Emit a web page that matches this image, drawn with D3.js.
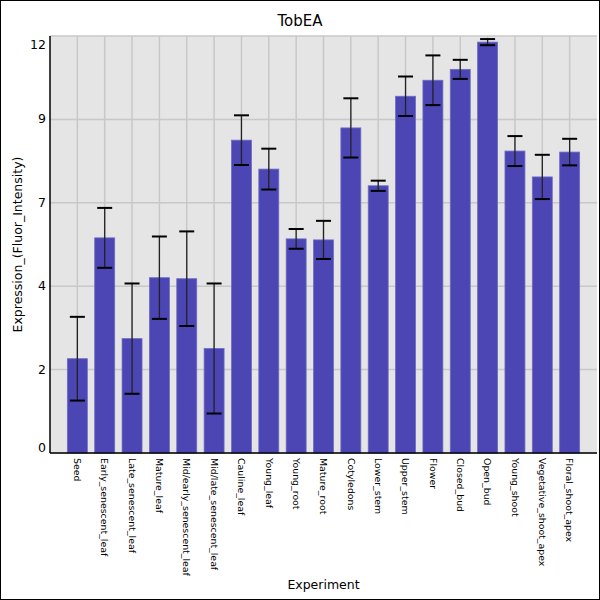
<!DOCTYPE html>
<html>
<head>
<meta charset="utf-8">
<script src="https://cdn.jsdelivr.net/npm/d3@7"></script>
<style>
  body { margin: 0; background: #fff; }
  svg { display: block; font-family: "DejaVu Sans", sans-serif; }
</style>
</head>
<body>
<div id="chart"></div>
<script>
// data
const categories = ["Seed", "Early_senescent_leaf", "Late_senescent_leaf", "Mature_leaf",
  "Mid/early_senescent_leaf", "Mid/late_senescent_leaf", "Cauline_leaf", "Young_leaf",
  "Young_root", "Mature_root", "Cotyledons", "Lower_stem", "Upper_stem", "Flower",
  "Closed_bud", "Open_bud", "Young_shoot", "Vegetative_shoot_apex", "Floral_shoot_apex"];
const values = [2.77, 6.32, 3.36, 5.15, 5.12, 3.07, 9.19, 8.34, 6.29, 6.26, 9.55, 7.85,
  10.48, 10.95, 11.27, 12.07, 8.87, 8.11, 8.84];
const errors = [1.23, 0.88, 1.62, 1.21, 1.39, 1.91, 0.73, 0.60, 0.29, 0.56, 0.87, 0.15,
  0.58, 0.73, 0.28, 0.09, 0.44, 0.65, 0.39];
const yTicks = [0, 2.45, 4.9, 7.35, 9.8, 12.25];

const W = 600, H = 600;
const m = {top: 36, right: 3, bottom: 147, left: 50};

const svg = d3.select("#chart").append("svg")
    .attr("width", W).attr("height", H);

svg.append("rect").attr("x", 0.5).attr("y", 0.5)
    .attr("width", W - 1).attr("height", H - 1)
    .attr("fill", "#fff").attr("stroke", "#000");

const x = d3.scalePoint().domain(categories)
    .range([m.left, W - m.right]).padding(1);
const y = d3.scaleLinear().domain([0, 12.25])
    .range([H - m.bottom, m.top]);
const step = x.step();
const barW = step * 0.73;

// plot background
svg.append("rect")
    .attr("x", m.left).attr("y", m.top)
    .attr("width", W - m.right - m.left).attr("height", H - m.bottom - m.top)
    .attr("fill", "#e5e5e5");

// grid
svg.append("g").selectAll("line").data(yTicks).enter().append("line")
    .attr("x1", m.left).attr("x2", W - m.right)
    .attr("y1", d => y(d)).attr("y2", d => y(d))
    .attr("stroke", "#c8c8c8").attr("stroke-width", 1.5);
svg.append("g").selectAll("line").data(categories).enter().append("line")
    .attr("x1", d => x(d)).attr("x2", d => x(d))
    .attr("y1", m.top).attr("y2", H - m.bottom)
    .attr("stroke", "#c8c8c8").attr("stroke-width", 1.5);

// bars
svg.append("g").selectAll("rect").data(categories).enter().append("rect")
    .attr("x", d => x(d) - barW / 2)
    .attr("width", barW)
    .attr("y", (d, i) => y(values[i]))
    .attr("height", (d, i) => y(0) - y(values[i]))
    .attr("fill", "#4b46b4")
    .attr("stroke", "#6f6bc4").attr("stroke-width", 0.8);

// error bars
const eb = svg.append("g").selectAll("g").data(categories).enter().append("g");
eb.append("line")
    .attr("x1", d => x(d)).attr("x2", d => x(d))
    .attr("y1", (d, i) => y(values[i] + errors[i]))
    .attr("y2", (d, i) => y(values[i] - errors[i]))
    .attr("stroke", "#222").attr("stroke-width", 1.3);
[1, -1].forEach(s => {
  eb.append("line")
    .attr("x1", d => x(d) - 7.5).attr("x2", d => x(d) + 7.5)
    .attr("y1", (d, i) => y(values[i] + s * errors[i]))
    .attr("y2", (d, i) => y(values[i] + s * errors[i]))
    .attr("stroke", "#000").attr("stroke-width", 2);
});

// axes
svg.append("line")
    .attr("x1", m.left).attr("x2", m.left)
    .attr("y1", m.top).attr("y2", H - m.bottom)
    .attr("stroke", "#000").attr("stroke-width", 1.5);
svg.append("line")
    .attr("x1", m.left).attr("x2", W - m.right)
    .attr("y1", H - m.bottom).attr("y2", H - m.bottom)
    .attr("stroke", "#000").attr("stroke-width", 1.5);

// y tick labels (truncated, end labels kept inside the plot)
svg.append("g").selectAll("text").data(yTicks).enter().append("text")
    .attr("x", m.left - 4)
    .attr("y", (d, i) => y(d) + (i === 0 ? -1 : i === yTicks.length - 1 ? 13 : 4))
    .attr("text-anchor", "end")
    .attr("font-size", 12.5)
    .attr("fill", "#000")
    .text(d => Math.floor(d));

// x tick labels
svg.append("g").selectAll("text").data(categories).enter().append("text")
    .attr("transform", d => `translate(${x(d) - 3.3},${H - m.bottom + 5}) rotate(90)`)
    .attr("text-anchor", "start")
    .attr("font-size", 9.4)
    .attr("fill", "#000")
    .text(d => d);

// titles
svg.append("text")
    .attr("x", 300).attr("y", 26)
    .attr("text-anchor", "middle")
    .attr("font-size", 15)
    .text("TobEA");
svg.append("text")
    .attr("transform", `translate(22,${(m.top + H - m.bottom) / 2}) rotate(-90)`)
    .attr("text-anchor", "middle")
    .attr("font-size", 12.5)
    .text("Expression_(Fluor_Intensity)");
svg.append("text")
    .attr("x", (m.left + W - m.right) / 2).attr("y", 589)
    .attr("text-anchor", "middle")
    .attr("font-size", 12.5)
    .text("Experiment");
</script>
</body>
</html>
